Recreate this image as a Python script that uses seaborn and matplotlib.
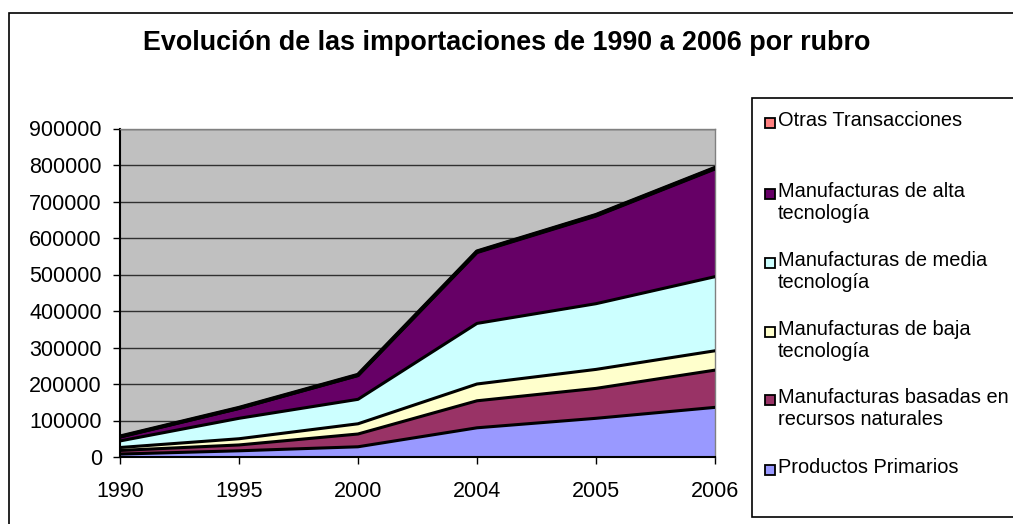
import matplotlib
matplotlib.use("Agg")
import matplotlib.pyplot as plt
import seaborn as sns
import numpy as np
import pandas as pd
from matplotlib.patches import Rectangle

# ---------------- data ----------------
years = ["1990", "1995", "2000", "2004", "2005", "2006"]
productos_primarios = [8000, 17000, 28000, 80000, 106000, 136000]
recursos_naturales = [10000, 16000, 35000, 74000, 82000, 102000]
baja_tecnologia = [8000, 17000, 28000, 46000, 52000, 53000]
media_tecnologia = [18000, 56000, 67000, 166000, 180000, 203000]
alta_tecnologia = [11000, 27000, 65000, 194000, 240000, 295000]
otras_transacciones = [1000, 1500, 2000, 3000, 3000, 3000]

series_names = ["Productos Primarios",
                "Manufacturas basadas en\nrecursos naturales",
                "Manufacturas de baja\ntecnología",
                "Manufacturas de media\ntecnología",
                "Manufacturas de alta\ntecnología",
                "Otras Transacciones"]
series_values = [productos_primarios, recursos_naturales, baja_tecnologia,
                 media_tecnologia, alta_tecnologia, otras_transacciones]
series_colors = ["#9999FF", "#993366", "#FFFFCC", "#CCFFFF", "#660066", "#FF8080"]
y_ticks = [0, 100000, 200000, 300000, 400000, 500000, 600000, 700000, 800000, 900000]
title = "Evolución de las importaciones de 1990 a 2006 por rubro"

# ---------------- style ----------------
sns.set_theme(style="white")
plt.rcParams["font.family"] = ["Liberation Sans", "DejaVu Sans"]

W, H = 1013, 524
fig = plt.figure(figsize=(W / 100, H / 100), dpi=100)
fig.patch.set_facecolor("white")


def fx(px):
    return px / W


def fy(py):
    return 1 - py / H


# outer chart border (left and top edges visible)
fig.add_artist(Rectangle((fx(9), fy(700)), fx(1200), (700 - 13) / H,
                         transform=fig.transFigure, fill=False,
                         edgecolor="black", lw=1.2))

left, right, top, bottom = 120, 715, 128.5, 457
ax = fig.add_axes([fx(left), fy(bottom), fx(right - left), (bottom - top) / H])
ax.set_facecolor("#C0C0C0")

x = np.arange(len(years))
df = pd.DataFrame({"x": x})
cum = np.zeros(len(years))
for name, vals, col in zip(series_names, series_values, series_colors):
    vals = np.asarray(vals, dtype=float)
    ax.fill_between(x, cum, cum + vals, facecolor=col, edgecolor="none", zorder=2)
    cum = cum + vals
    df["top"] = cum
    sns.lineplot(data=df, x="x", y="top", ax=ax, color="black", lw=2.2, zorder=3,
                 legend=False)
df["top"] = cum
sns.lineplot(data=df, x="x", y="top", ax=ax, color="black", lw=3, zorder=4, legend=False)

ax.set_xlim(0, len(years) - 1)
ax.set_ylim(0, 900000)
ax.set_xticks(x)
ax.set_xticklabels(years)
ax.set_yticks(y_ticks)
ax.set_yticklabels([str(v) for v in y_ticks])
ax.set_xlabel("")
ax.set_ylabel("")
ax.yaxis.grid(True, color="#303030", lw=1, zorder=1)
ax.xaxis.grid(False)
ax.set_axisbelow(True)
ax.tick_params(axis="both", direction="out", length=5, width=1, color="black",
               labelsize=15.5, labelcolor="black")
ax.tick_params(axis="x", pad=12)
ax.tick_params(axis="y", pad=8)
ax.tick_params(left=True, bottom=True)
for s in ["left", "bottom"]:
    ax.spines[s].set_color("black")
    ax.spines[s].set_linewidth(1.5)
for s in ["top", "right"]:
    ax.spines[s].set_color("#808080")
    ax.spines[s].set_linewidth(1)

# title
fig.text(0.5, fy(43), title, ha="center", va="center", fontsize=19.4,
         fontweight="bold", color="black")

# legend (drawn manually, reverse stacking order)
fig.add_artist(Rectangle((fx(752), fy(517)), fx(600), (517 - 98) / H,
                         transform=fig.transFigure, fill=True, facecolor="white",
                         edgecolor="black", lw=1.2))
legend_y = [123, 194, 263, 332, 400, 470]
for (name, col), yy in zip(list(zip(series_names, series_colors))[::-1], legend_y):
    fig.add_artist(Rectangle((fx(765), fy(yy + 5)), fx(10), 10 / H,
                             transform=fig.transFigure, facecolor=col,
                             edgecolor="black", lw=1.3))
    fig.text(fx(778), fy(yy - 12), name, ha="left", va="top", fontsize=14.4,
             color="black", linespacing=1.22)

fig.savefig("out.png", dpi=100, facecolor="white")
